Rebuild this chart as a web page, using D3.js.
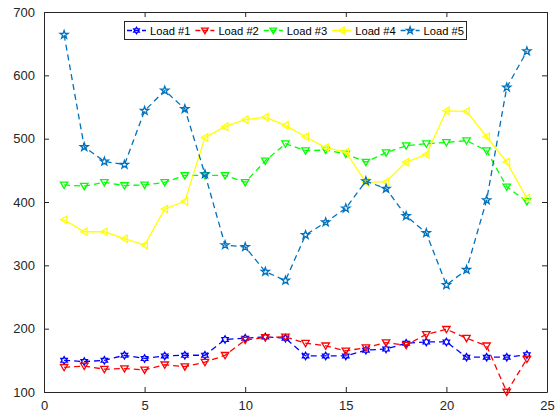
<!DOCTYPE html>
<html>
<head>
<meta charset="utf-8">
<script src="https://cdn.jsdelivr.net/npm/d3@7"></script>
<style>
  html, body { margin: 0; padding: 0; background: #fff; }
  svg { display: block; font-family: "Liberation Sans", Arial, Helvetica, sans-serif; }
</style>
</head>
<body>
<svg id="chart" width="558" height="414"></svg>
<script>
// Hourly load profiles, hours 1..24
const hours = d3.range(1, 25);
const load1 = [150, 148, 150, 158, 153, 157, 158, 158, 183, 185, 187, 185, 157, 157, 157, 166, 168, 177, 179, 179, 155, 155, 155, 159];
const load2 = [139, 141, 136, 137, 135, 143, 140, 147, 158, 182, 186, 187, 177, 173, 165, 170, 178, 174, 191, 199, 185, 173, 100, 152];
const load3 = [427, 425, 431, 426, 427, 431, 442, 442, 442, 431, 465, 492, 481, 482, 476, 463, 478, 489, 492, 494, 497, 481, 424, 401];
const load4 = [372, 353, 353, 342, 332, 389, 401, 502, 519, 530, 534, 521, 503, 486, 479, 431, 432, 463, 475, 544, 543, 503, 463, 406];
const load5 = [664, 487, 464, 459, 544, 576, 547, 444, 332, 329, 290, 276, 348, 368, 390, 433, 421, 378, 351, 269, 293, 403, 581, 638];

const seriesNames = ["Load #1", "Load #2", "Load #3", "Load #4", "Load #5"];
const xTicks = [0, 5, 10, 15, 20, 25];
const yTicks = [100, 200, 300, 400, 500, 600, 700];

const series = [
  { name: seriesNames[0], values: load1, color: "#0000ff", dash: "6,4", marker: "hexagram" },
  { name: seriesNames[1], values: load2, color: "#ff0000", dash: "6,4", marker: "triDown" },
  { name: seriesNames[2], values: load3, color: "#00ff00", dash: "6,4", marker: "triDown" },
  { name: seriesNames[3], values: load4, color: "#ffff00", dash: null,  marker: "triLeft" },
  { name: seriesNames[4], values: load5, color: "#0072bd", dash: "6,4", marker: "pentagram" }
];

const svg = d3.select("#chart");
const plotLeft = 44, plotRight = 547, plotTop = 12, plotBottom = 392;

const x = d3.scaleLinear().domain([0, 25]).range([plotLeft, plotRight]);
const y = d3.scaleLinear().domain([100, 700]).range([plotBottom, plotTop]);

const axisColor = "#262626";

// Marker paths centred on (0,0)
function markerPath(type, r) {
  const p = d3.path();
  if (type === "triDown") {
    p.moveTo(-r, -r * 0.75); p.lineTo(r, -r * 0.75); p.lineTo(0, r * 0.95); p.closePath();
  } else if (type === "triLeft") {
    p.moveTo(r * 0.75, -r); p.lineTo(r * 0.75, r); p.lineTo(-r * 0.95, 0); p.closePath();
  } else if (type === "pentagram") {
    const ro = r * 1.15, ri = ro * 0.4;
    for (let i = 0; i < 10; i++) {
      const a = -Math.PI / 2 + i * Math.PI / 5;
      const rr = i % 2 === 0 ? ro : ri;
      if (i === 0) p.moveTo(rr * Math.cos(a), rr * Math.sin(a));
      else p.lineTo(rr * Math.cos(a), rr * Math.sin(a));
    }
    p.closePath();
  } else if (type === "hexagram") {
    const ro = r, ri = r * 0.577;
    for (let i = 0; i < 12; i++) {
      const a = -Math.PI / 2 + i * Math.PI / 6;
      const rr = i % 2 === 0 ? ro : ri;
      if (i === 0) p.moveTo(rr * Math.cos(a), rr * Math.sin(a));
      else p.lineTo(rr * Math.cos(a), rr * Math.sin(a));
    }
    p.closePath();
  }
  return p.toString();
}

// Plot box background
svg.append("rect")
  .attr("x", plotLeft).attr("y", plotTop)
  .attr("width", plotRight - plotLeft).attr("height", plotBottom - plotTop)
  .attr("fill", "#fff");

// Axes: ticks point inward, box on all four sides
const xAxisB = d3.axisBottom(x).tickValues(xTicks).tickSizeInner(-5).tickSizeOuter(0).tickPadding(9);
const xAxisT = d3.axisTop(x).tickValues(xTicks).tickSizeInner(-5).tickSizeOuter(0).tickFormat("");
const yAxisL = d3.axisLeft(y).tickValues(yTicks).tickSizeInner(-5).tickSizeOuter(0).tickPadding(9);
const yAxisR = d3.axisRight(y).tickValues(yTicks).tickSizeInner(-5).tickSizeOuter(0).tickFormat("");

function styleAxis(g) {
  g.selectAll("path").attr("stroke", axisColor).attr("stroke-width", 1);
  g.selectAll("line").attr("stroke", axisColor).attr("stroke-width", 1);
  g.selectAll("text").attr("fill", axisColor).attr("font-size", 13)
    .attr("font-family", "Liberation Sans, Arial, Helvetica, sans-serif");
}

svg.append("g").attr("transform", `translate(0,${plotBottom})`).call(xAxisB).call(styleAxis);
svg.append("g").attr("transform", `translate(0,${plotTop})`).call(xAxisT).call(styleAxis);
svg.append("g").attr("transform", `translate(${plotLeft},0)`).call(yAxisL).call(styleAxis);
svg.append("g").attr("transform", `translate(${plotRight},0)`).call(yAxisR).call(styleAxis);

// Data lines and markers
const line = d3.line().x((d, i) => x(hours[i])).y(d => y(d));
const plot = svg.append("g");

series.forEach(s => {
  const g = plot.append("g");
  g.append("path")
    .attr("d", line(s.values))
    .attr("fill", "none")
    .attr("stroke", s.color)
    .attr("stroke-width", 1.3)
    .attr("stroke-dasharray", s.dash);
  g.selectAll("path.m")
    .data(s.values)
    .join("path")
    .attr("class", "m")
    .attr("d", markerPath(s.marker, 3.7))
    .attr("transform", (d, i) => `translate(${x(hours[i])},${y(d)})`)
    .attr("fill", "none")
    .attr("stroke", s.color)
    .attr("stroke-width", 1.3);
});

// Legend
const legX = 124, legY = 21, legW = 342, legH = 18, entryW = 68.4;
const legend = svg.append("g");
legend.append("rect")
  .attr("x", legX + 0.5).attr("y", legY + 0.5)
  .attr("width", legW).attr("height", legH)
  .attr("fill", "#fff").attr("stroke", axisColor).attr("stroke-width", 1);

series.forEach((s, i) => {
  const ex = legX + 3 + i * entryW;
  const cy = legY + legH / 2 + 0.5;
  legend.append("line")
    .attr("x1", ex).attr("x2", ex + 19)
    .attr("y1", cy).attr("y2", cy)
    .attr("stroke", s.color).attr("stroke-width", 1.3)
    .attr("stroke-dasharray", s.dash ? "5,2.5" : null);
  legend.append("path")
    .attr("d", markerPath(s.marker, 3.3))
    .attr("transform", `translate(${ex + 9.5},${cy})`)
    .attr("fill", "none").attr("stroke", s.color).attr("stroke-width", 1.3);
  legend.append("text")
    .attr("x", ex + 23).attr("y", cy + 4)
    .attr("font-size", 11.2)
    .attr("fill", "#000")
    .text(s.name);
});
</script>
</body>
</html>
